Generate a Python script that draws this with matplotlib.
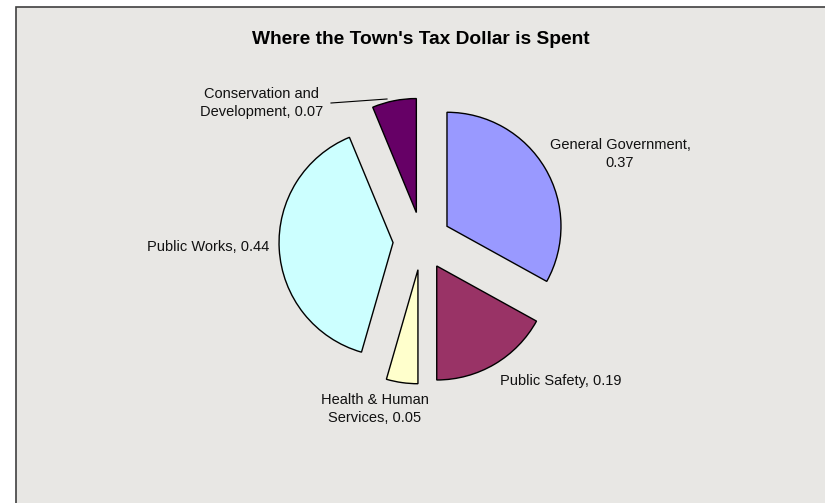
import matplotlib.pyplot as plt
from matplotlib.patches import Rectangle

plt.rcParams['font.family'] = ['Liberation Sans', 'DejaVu Sans']

# data
categories = ['General Government', 'Public Safety', 'Health & Human Services',
              'Public Works', 'Conservation and Development']
values = [0.37, 0.19, 0.05, 0.44, 0.07]
colors = ['#9999FF', '#993366', '#FFFFCC', '#CCFFFF', '#660066']
label_texts = ['General Government,\n0.37', 'Public Safety, 0.19',
               'Health & Human\nServices, 0.05', 'Public Works, 0.44',
               'Conservation and\nDevelopment, 0.07']

W, H = 825, 503
fig = plt.figure(figsize=(W / 100, H / 100), dpi=100)
ax = fig.add_axes([0, 0, 1, 1])

# chart area background (textured grey in the original)
ax.add_patch(Rectangle((15.5, -5), W, H - 6.5 + 5, facecolor='#E8E7E4',
                       edgecolor='#404040', linewidth=1.2, zorder=0))

R = 114
cx, cy = 422, H - 241
# every slice pulled out by ~29 px (pie explode is in data units)
ax.pie(values, colors=colors, startangle=90, counterclock=False,
       radius=R, center=(cx, cy), explode=[29] * len(values),
       wedgeprops=dict(edgecolor='black', linewidth=1.0), frame=True)
ax.set_xlim(0, W)
ax.set_ylim(0, H)
ax.set_aspect('equal')
ax.axis('off')

ax.text(421, H - 39, "Where the Town's Tax Dollar is Spent", ha='center', va='center',
        fontsize=13.8, fontweight='bold')

fs = 10.5
pos = [(620, 154), (561, 381), (375, 409), (208, 247), (262, 103)]
for (px, py), t in zip(pos, label_texts):
    ax.text(px, H - py, t, ha='center', va='center', fontsize=fs,
            linespacing=1.3, color='#111111')

# leader line for the small conservation slice
ax.plot([331, 387], [H - 103, H - 99], color='black', linewidth=0.8)

fig.savefig('out.png', dpi=100)
